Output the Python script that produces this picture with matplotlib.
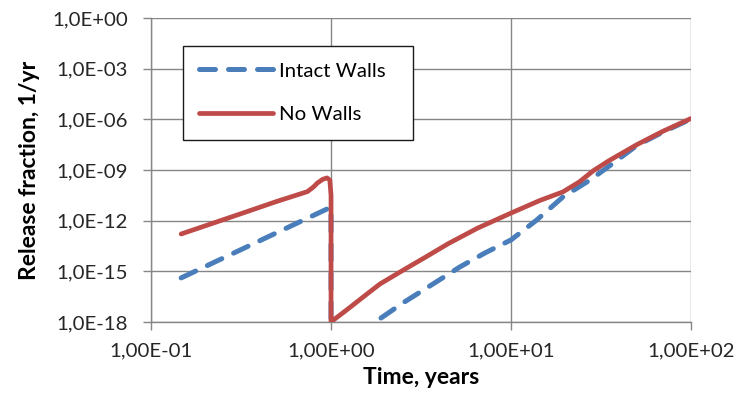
import numpy as np
import matplotlib
matplotlib.use("Agg")
import matplotlib.pyplot as plt
from matplotlib.ticker import FixedLocator, FuncFormatter, NullLocator

plt.rcParams['font.family'] = ['Lato', 'DejaVu Sans']

# Release fraction vs. time (log10 of the value for y)
t_nowalls = [0.147, 0.30, 0.50, 0.74, 0.80, 0.84, 0.90, 0.95, 0.985, 1.0, 1.0,
             1.05, 1.15, 1.29, 1.5, 1.87, 2.5, 3.3, 4.5, 6.5, 10.0,
             14.5, 19.4, 24.0, 28.6, 35.0, 50.0, 70.0, 100.0]
logr_nowalls = [-12.79, -11.67, -10.86, -10.28, -10.0, -9.77, -9.55, -9.47, -9.6, -10.5, -18.0,
                -17.82, -17.5, -17.09, -16.54, -15.75, -14.95, -14.2, -13.35, -12.45, -11.55,
                -10.8, -10.3, -9.7, -9.05, -8.45, -7.5, -6.7, -5.95]

t_intact = [0.147, 0.30, 0.50, 0.95, 1.0, 1.0,
            1.76, 2.51, 3.5, 5.2, 7.2, 10.0, 13.9, 19.4, 27.5, 36.9,
            50.0, 70.0, 100.0]
logr_intact = [-15.39, -13.83, -12.71, -11.31, -11.2, -20.0,
               -18.0, -16.87, -15.9, -14.74, -13.9, -13.14, -11.96, -10.6, -9.59, -8.6,
               -7.55, -6.75, -5.98]

x_ticks = [0.1, 1.0, 10.0, 100.0]
y_ticks = [1e0, 1e-3, 1e-6, 1e-9, 1e-12, 1e-15, 1e-18]

BLUE = "#4a7ebb"
RED = "#be4b48"
GRID = "#868686"

fig = plt.figure(figsize=(7.36, 3.96), dpi=100)
ax = fig.add_axes([0.2052, 0.1869, 0.7337, 0.7677])

ax.plot(t_intact, 10.0 ** np.array(logr_intact), color=BLUE, lw=3.6,
        dashes=(3.2, 2.6), dash_capstyle="round", dash_joinstyle="round",
        label="Intact Walls", zorder=3)
ax.plot(t_nowalls, 10.0 ** np.array(logr_nowalls), color=RED, lw=3.4,
        solid_capstyle="round", solid_joinstyle="round",
        label="No Walls", zorder=4)

ax.set_xscale("log")
ax.set_yscale("log")
ax.set_xlim(0.1, 100)
ax.set_ylim(1e-18, 1e0)

ax.xaxis.set_major_locator(FixedLocator(x_ticks))
ax.xaxis.set_minor_locator(NullLocator())
ax.yaxis.set_major_locator(FixedLocator(y_ticks))
ax.yaxis.set_minor_locator(NullLocator())


def excel_fmt(digits):
    def fmt(v, pos):
        s = f"{v:.{digits}E}"
        mant, exp = s.split("E")
        sign = exp[0]
        return f"{mant.replace('.', ',')}E{sign}{abs(int(exp)):02d}"
    return fmt


ax.xaxis.set_major_formatter(FuncFormatter(excel_fmt(2)))
ax.yaxis.set_major_formatter(FuncFormatter(excel_fmt(1)))

ax.tick_params(axis="both", which="major", direction="out", length=6,
               width=1, color=GRID, labelsize=14.7, labelcolor="#262626")
ax.tick_params(axis="y", pad=10.5)
ax.tick_params(axis="x", pad=9)

ax.grid(True, color=GRID, lw=1)
for side in ("top", "right"):
    ax.spines[side].set_visible(False)
for side in ("left", "bottom"):
    ax.spines[side].set_color(GRID)
    ax.spines[side].set_linewidth(1)

ax.set_xlabel("Time, years", fontsize=16.5, fontweight="bold", labelpad=5)
ax.set_ylabel("Release fraction, 1/yr", fontsize=16.5, fontweight="bold", labelpad=9)

leg = ax.legend(loc="upper left", bbox_to_anchor=(0.0593, 0.908, 0.426, 0.0),
                mode="expand", borderaxespad=0, fontsize=14.7, handlelength=3.6,
                handletextpad=0.3, labelspacing=1.3, borderpad=0.8,
                fancybox=False, framealpha=1)
leg.get_frame().set_edgecolor("#1a1a1a")
leg.get_frame().set_linewidth(1)

fig.savefig("out.png", dpi=100)
